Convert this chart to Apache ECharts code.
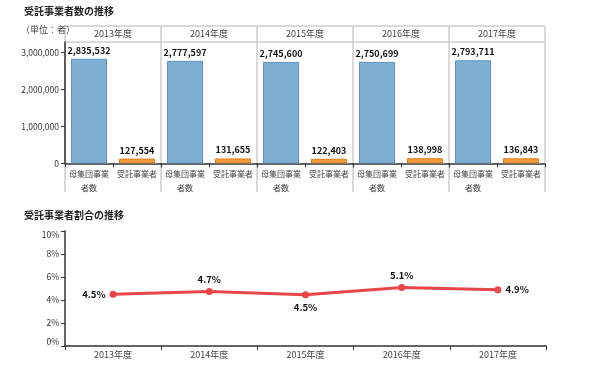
<!DOCTYPE html>
<html><head><meta charset="utf-8">
<script src="https://cdn.jsdelivr.net/npm/echarts@6/dist/echarts.min.js"></script>
<style>html,body{margin:0;padding:0;background:#fff}#c{width:590px;height:371px}</style>
</head><body><div id="c"></div>
<script>
const years = ['2013年度','2014年度','2015年度','2016年度','2017年度'];
const barCats = ['母集団事業者数','受託事業者'];
const populationCounts = [2835532, 2777597, 2745600, 2750699, 2793711];
const contractorCounts = [127554, 131655, 122403, 138998, 136843];
const ratioValues = [4.5, 4.74, 4.46, 5.08, 4.9];
const ratioLabelPos = ['left','top','bottom','top','right'];
const barTicks = [0, 1000000, 2000000, 3000000];

const FONT = '"Noto Sans CJK JP", "Noto Sans", sans-serif';
const L0 = 65, PW = 96, TOP = 42, H = 121.3, HEAD = 26;
const grids = [], xAxes = [], yAxes = [], series = [], graphics = [];
years.forEach((yr, i) => {
  grids.push({left: L0 + PW*i, top: TOP, width: PW, height: H});
  xAxes.push({type:'category', gridIndex:i, data: barCats,
    axisLine:{lineStyle:{color:'#333', width:1.5}},
    axisTick:{show:true, lineStyle:{color:'#333'}, length:4},
    axisLabel:{interval:0, color:'#444', fontSize:8, fontFamily:FONT, margin:4, lineHeight:13.5,
      formatter: v => v.length > 5 ? v.slice(0,5) + '\n' + v.slice(5) : v}});
  xAxes.push({type:'category', gridIndex:i, position:'top', data:[yr],
    axisLine:{show:false}, axisTick:{show:false},
    axisLabel:{color:'#444', fontSize:9, fontFamily:FONT, margin:4}});
  yAxes.push({type:'value', gridIndex:i, min:0, max:3290000,
    axisLine:{show:i===0, lineStyle:{color:'#333', width:1.5}},
    axisTick:{show:i===0, customValues:barTicks, length:4, lineStyle:{color:'#333'}},
    axisLabel:{show:i===0, customValues:barTicks, color:'#333', fontSize:8.5, fontFamily:FONT, margin:6,
      formatter: v => v.toLocaleString('en-US')},
    splitLine:{show:false}});
  series.push({type:'bar', xAxisIndex:2*i, yAxisIndex:i, barWidth:'75%',
    data:[
      {value: populationCounts[i], itemStyle:{color:'#80afd4', borderColor:'#5b93c2', borderWidth:1}},
      {value: contractorCounts[i], itemStyle:{color:'#f39b3c', borderColor:'#e57f1c', borderWidth:1}}
    ],
    label:{show:true, position:'top', distance:4, color:'#111', fontWeight:'bold', fontSize:9, fontFamily:FONT,
      formatter: p => p.value.toLocaleString('en-US')}});
});
graphics.push({type:'line', shape:{x1:L0, y1:HEAD, x2:L0+PW*5, y2:HEAD}, style:{stroke:'#ccc', lineWidth:1.5}, z:0});
graphics.push({type:'line', shape:{x1:L0, y1:TOP, x2:L0+PW*5, y2:TOP}, style:{stroke:'#ccc', lineWidth:1.5}, z:0});
for (let k=0;k<=5;k++) {
  graphics.push({type:'line', shape:{x1:L0+PW*k, y1:HEAD, x2:L0+PW*k, y2:192}, style:{stroke:'#ccc', lineWidth:1.5}, z:0});
}
graphics.push({type:'text', left:24, top:6, style:{text:'受託事業者数の推移', font:'bold 10px '+FONT, fill:'#222'}});
graphics.push({type:'text', left:21, top:25, style:{text:'（単位：者）', font:'9px '+FONT, fill:'#444'}});
graphics.push({type:'text', left:24, top:210, style:{text:'受託事業者割合の推移', font:'bold 10px '+FONT, fill:'#222'}});

const gi = grids.length;
grids.push({left:L0, top:231, width:481, height:115});
xAxes.push({type:'category', gridIndex:gi, data:years, boundaryGap:true,
  axisLine:{lineStyle:{color:'#333', width:1.5}},
  axisTick:{show:true, length:4, lineStyle:{color:'#333'}},
  axisLabel:{color:'#444', fontSize:9, fontFamily:FONT, margin:4}});
yAxes.push({type:'value', gridIndex:gi, min:0, max:10, interval:2,
  axisLine:{show:true, lineStyle:{color:'#333', width:1.5}},
  axisTick:{show:true, length:4, lineStyle:{color:'#333'}},
  axisLabel:{color:'#333', fontSize:8.5, fontFamily:FONT, margin:6, formatter:'{value}%',
    verticalAlignMinLabel:'bottom', verticalAlignMaxLabel:'top'},
  splitLine:{show:false}});
series.push({type:'line', xAxisIndex:xAxes.length-1, yAxisIndex:yAxes.length-1,
  symbol:'circle', symbolSize:7,
  lineStyle:{color:'#e8474a', width:3}, itemStyle:{color:'#e8474a'},
  data: ratioValues.map((v,i)=>({value:v, label:{position:ratioLabelPos[i]}})),
  label:{show:true, distance:4, color:'#111', fontWeight:'bold', fontSize:9.5, fontFamily:FONT,
    formatter: p => p.value.toFixed(1) + '%'}});

const chart = echarts.init(document.getElementById('c'), null, {renderer:'canvas'});
chart.setOption({animation:false, textStyle:{fontFamily:FONT},
  grid:grids, xAxis:xAxes, yAxis:yAxes, series:series, graphic:graphics});
</script></body></html>
